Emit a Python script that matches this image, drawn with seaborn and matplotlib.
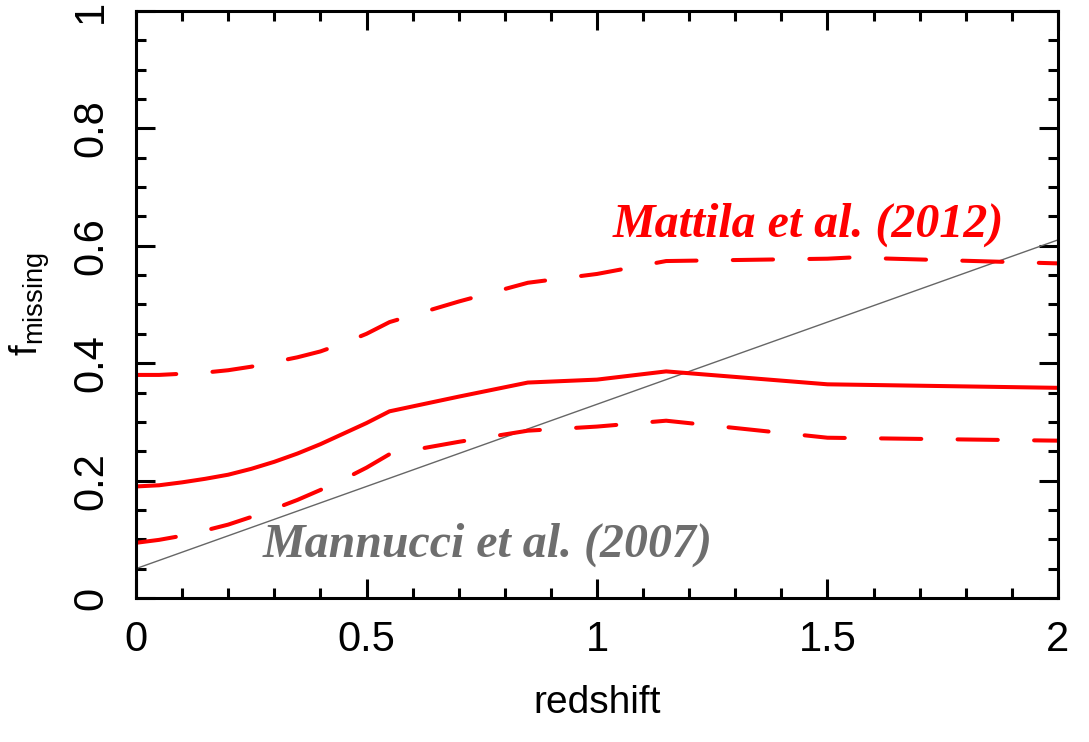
import numpy as np
import pandas as pd
import matplotlib
matplotlib.use("Agg")
import matplotlib.pyplot as plt
import seaborn as sns
from matplotlib.ticker import MultipleLocator, FixedLocator

# Missing fraction of core-collapse supernovae versus redshift
z_mattila = [0.0, 0.05, 0.1, 0.15, 0.2, 0.25, 0.3, 0.35, 0.4, 0.45, 0.5, 0.55,
             0.7, 0.85, 1.0, 1.15, 1.5, 2.0]
f_mattila = [0.190, 0.192, 0.197, 0.203, 0.210, 0.220, 0.232, 0.246, 0.262, 0.280,
             0.298, 0.318, 0.343, 0.367, 0.372, 0.386, 0.364, 0.358]

z_upper = [0.0, 0.05, 0.1, 0.15, 0.2, 0.25, 0.3, 0.35, 0.4, 0.45, 0.5, 0.55,
           0.7, 0.85, 1.0, 1.15, 1.5, 1.55, 2.0]
f_upper = [0.380, 0.380, 0.382, 0.384, 0.388, 0.394, 0.402, 0.410, 0.420, 0.434,
           0.450, 0.470, 0.505, 0.537, 0.552, 0.574, 0.578, 0.580, 0.570]

z_lower = [0.0, 0.05, 0.1, 0.15, 0.2, 0.25, 0.3, 0.35, 0.4, 0.45, 0.5, 0.55,
           0.7, 0.85, 1.0, 1.15, 1.5, 2.0]
f_lower = [0.094, 0.099, 0.106, 0.115, 0.125, 0.138, 0.152, 0.167, 0.184, 0.202,
           0.222, 0.245, 0.266, 0.285, 0.292, 0.302, 0.273, 0.268]

z_mannucci = [0.0, 2.0]
f_mannucci = [0.05, 0.61]

x_ticks = [0, 0.5, 1, 1.5, 2]
x_tick_labels = ["0", "0.5", "1", "1.5", "2"]
y_ticks = [0, 0.2, 0.4, 0.6, 0.8, 1.0]
y_tick_labels = ["0", "0.2", "0.4", "0.6", "0.8", "1"]

sns.set_style("ticks")
plt.rcParams["font.family"] = ["Liberation Sans", "DejaVu Sans"]

fig = plt.figure(figsize=(10.89, 7.42), dpi=100)
ax = fig.add_axes([0.1249, 0.1941, 0.8466, 0.7911])

red = "#ff0000"
sns.lineplot(x=z_mannucci, y=f_mannucci, ax=ax, color="#666666", lw=1.0)
sns.lineplot(x=z_mattila, y=f_mattila, ax=ax, color=red, lw=2.9,
             solid_capstyle="round", solid_joinstyle="round")
sns.lineplot(x=z_upper, y=f_upper, ax=ax, color=red, lw=2.9,
             linestyle=(0, (10, 9)), dash_capstyle="round")
sns.lineplot(x=z_lower, y=f_lower, ax=ax, color=red, lw=2.9,
             linestyle=(0, (10, 9)), dash_capstyle="round")

ax.set_xlim(0, 2)
ax.set_ylim(0, 1)

ax.xaxis.set_major_locator(FixedLocator(x_ticks))
ax.set_xticklabels(x_tick_labels)
ax.xaxis.set_minor_locator(MultipleLocator(0.1))
ax.yaxis.set_major_locator(FixedLocator(y_ticks))
ax.set_yticklabels(y_tick_labels, rotation=90, va="center")
ax.yaxis.set_minor_locator(MultipleLocator(0.05))

for side in ["left", "right", "top", "bottom"]:
    ax.spines[side].set_visible(True)
    ax.spines[side].set_linewidth(2.2)
    ax.spines[side].set_color("black")

ax.tick_params(which="both", direction="in", top=True, right=True,
               width=2.2, colors="black", labelsize=30)
ax.tick_params(which="major", length=14)
ax.tick_params(which="minor", length=7)
ax.tick_params(axis="x", which="major", pad=16)
ax.tick_params(axis="y", which="major", pad=18)

ax.set_xlabel("redshift", fontsize=28, labelpad=18, color="black")
ax.set_ylabel(r"f$_{\mathregular{missing}}$", fontsize=28, labelpad=14,
              color="black")

serif = ["Liberation Serif", "DejaVu Serif"]
ax.text(1.035, 0.615, "Mattila et al. (2012)", color=red, fontsize=34.5,
        fontweight="bold", fontstyle="italic", family=serif)
ax.text(0.275, 0.07, "Mannucci et al. (2007)", color="#6e6e6e", fontsize=34.5,
        fontweight="bold", fontstyle="italic", family=serif)

fig.savefig("out.png", dpi=100)
